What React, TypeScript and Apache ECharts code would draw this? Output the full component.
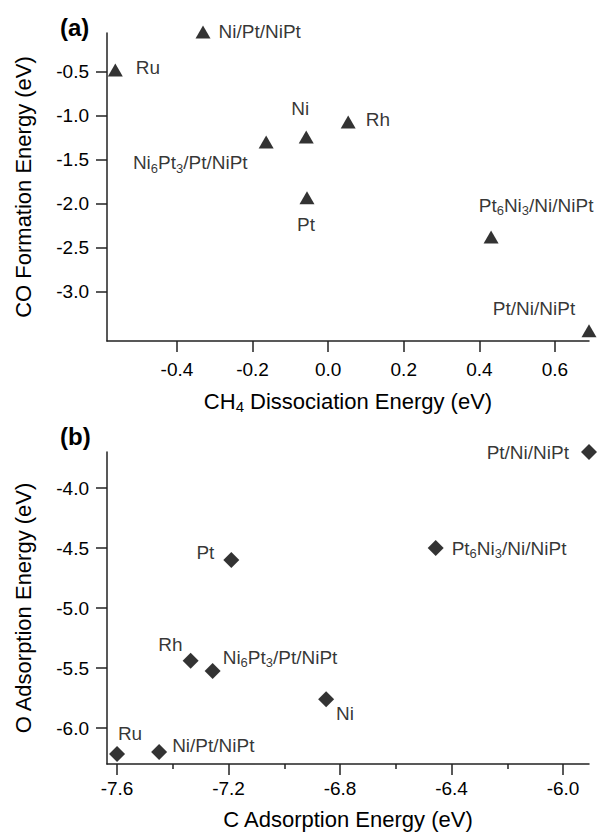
import React, { useEffect, useRef } from "react";
import * as echarts from "echarts";

// ---- data ----
const catalysts = [
  "Ru",
  "Ni/Pt/NiPt",
  "Ni6Pt3/Pt/NiPt",
  "Ni",
  "Rh",
  "Pt",
  "Pt6Ni3/Ni/NiPt",
  "Pt/Ni/NiPt",
];
// panel (a)
const ch4Dissociation = [-0.563, -0.331, -0.164, -0.058, 0.053, -0.056, 0.431, 0.69];
const coFormation = [-0.477, -0.045, -1.295, -1.239, -1.068, -1.93, -2.375, -3.44];
// panel (b)
const cAdsorption = [-7.6, -7.449, -7.257, -6.85, -7.336, -7.19, -6.457, -5.907];
const oAdsorption = [-6.217, -6.2, -5.525, -5.76, -5.44, -4.6, -4.5, -3.7];

// tick values
const topXTicks = [-0.4, -0.2, 0.0, 0.2, 0.4, 0.6];
const topYTicks = [-3.0, -2.5, -2.0, -1.5, -1.0, -0.5];
const botXTicks = [-7.6, -7.2, -6.8, -6.4, -6.0];
const botXMinorTicks = [-7.4, -7.0, -6.6, -6.2];
const botYTicks = [-6.0, -5.5, -5.0, -4.5, -4.0];

// ---- label placement (style, not data) ----
type Place = { position: string; distance: number; offset: [number, number] };
const topPlace: Place[] = [
  { position: "right", distance: 13, offset: [0, -2] },
  { position: "right", distance: 8, offset: [0, 0] },
  { position: "left", distance: 11, offset: [0, 21] },
  { position: "top", distance: 10, offset: [-6, 0] },
  { position: "right", distance: 10, offset: [0, -2] },
  { position: "bottom", distance: 8, offset: [-1, 0] },
  { position: "top", distance: 13, offset: [45, 0] },
  { position: "top", distance: 4, offset: [-55, 0] },
];
const botPlace: Place[] = [
  { position: "top", distance: 1, offset: [13, 0] },
  { position: "right", distance: 5, offset: [0, -7] },
  { position: "right", distance: 2, offset: [0, -14] },
  { position: "right", distance: 2, offset: [0, 14] },
  { position: "left", distance: 0, offset: [0, -16] },
  { position: "left", distance: 9, offset: [0, -8] },
  { position: "right", distance: 8, offset: [0, 0] },
  { position: "left", distance: 12, offset: [0, 0] },
];

const FONT = '"Liberation Sans", Arial, Helvetica, sans-serif';
const TXT = "#000";
const AX = "#222";

function richName(name: string): string {
  return name
    .split(/(\d)/)
    .filter((t) => t.length > 0)
    .map((t) => (/^\d$/.test(t) ? `{s|${t}}` : `{n|${t}}`))
    .join("");
}

const labelRich = {
  n: { fontSize: 19, fontFamily: FONT, color: TXT, lineHeight: 24 },
  s: { fontSize: 13, fontFamily: FONT, color: TXT, lineHeight: 13, verticalAlign: "bottom" },
};

function buildData(xs: number[], ys: number[], place: Place[]) {
  return catalysts.map((name, i) => ({
    name,
    value: [xs[i], ys[i]],
    label: {
      show: true,
      position: place[i].position,
      distance: place[i].distance,
      offset: place[i].offset,
      formatter: richName(name),
      rich: labelRich,
    },
  }));
}

const fmt1 = (v: number) => v.toFixed(1);

function valueAxis(extra: any) {
  return {
    type: "value",
    axisLine: { show: true, onZero: false, lineStyle: { color: AX, width: 1.5 } },
    axisTick: { show: true, length: 11, lineStyle: { color: AX, width: 1.5 } },
    axisLabel: { fontSize: 19, fontFamily: FONT, color: TXT, formatter: fmt1 },
    splitLine: { show: false },
    nameLocation: "middle",
    nameTextStyle: { fontSize: 22, fontFamily: FONT, color: TXT },
    ...extra,
  };
}

export default function App() {
  const ref = useRef<HTMLDivElement>(null);
  useEffect(() => {
    document.body.style.margin = "0";
    if (!ref.current) return;
    const chart = echarts.init(ref.current, undefined, { renderer: "svg" });
    const option: any = {
      animation: false,
      backgroundColor: "#fff",
      grid: [
        { left: 107, right: 10, top: 33, height: 308 },
        { left: 107, right: 10, top: 452, height: 312 },
      ],
      xAxis: [
        valueAxis({
          gridIndex: 0,
          min: -0.585,
          max: 0.69,
          position: "bottom",
          axisTick: { show: true, length: 11, customValues: topXTicks, lineStyle: { color: AX, width: 1.5 } },
          axisLabel: { customValues: topXTicks, fontSize: 19, fontFamily: FONT, color: TXT, formatter: fmt1, margin: 19 },
          name: "{n|CH}{s|4}{n| Dissociation Energy (eV)}",
          nameGap: 47,
          nameTextStyle: {
            fontSize: 22,
            fontFamily: FONT,
            color: TXT,
            rich: {
              n: { fontSize: 22, fontFamily: FONT, color: TXT, lineHeight: 26 },
              s: { fontSize: 15, fontFamily: FONT, color: TXT, lineHeight: 15, verticalAlign: "bottom" },
            },
          },
        }),
        valueAxis({
          gridIndex: 1,
          min: -7.636,
          max: -5.907,
          position: "bottom",
          axisTick: { show: true, length: 11, customValues: botXTicks, lineStyle: { color: AX, width: 1.5 } },
          axisLabel: { customValues: botXTicks, fontSize: 19, fontFamily: FONT, color: TXT, formatter: fmt1, margin: 15 },
          name: "C Adsorption Energy (eV)",
          nameGap: 44,
        }),
        {
          type: "value",
          gridIndex: 1,
          min: -7.636,
          max: -5.907,
          position: "bottom",
          axisLine: { show: false, onZero: false },
          axisTick: { show: true, length: 5, customValues: botXMinorTicks, lineStyle: { color: AX, width: 1.5 } },
          axisLabel: { show: false },
          splitLine: { show: false },
        },
      ],
      yAxis: [
        valueAxis({
          gridIndex: 0,
          min: -3.557,
          max: -0.057,
          position: "left",
          axisTick: { show: true, length: 11, customValues: topYTicks, lineStyle: { color: AX, width: 1.5 } },
          axisLabel: { customValues: topYTicks, fontSize: 19, fontFamily: FONT, color: TXT, formatter: fmt1, margin: 18 },
          name: "CO Formation Energy (eV)",
          nameRotate: 90,
          nameGap: 73,
        }),
        valueAxis({
          gridIndex: 1,
          min: -6.3,
          max: -3.7,
          position: "left",
          axisTick: { show: true, length: 11, customValues: botYTicks, lineStyle: { color: AX, width: 1.5 } },
          axisLabel: { customValues: botYTicks, fontSize: 19, fontFamily: FONT, color: TXT, formatter: fmt1, margin: 18 },
          name: "O Adsorption Energy (eV)",
          nameRotate: 90,
          nameGap: 73,
        }),
      ],
      graphic: [
        {
          type: "text",
          left: 60,
          top: 15,
          style: { text: "(a)", fontSize: 24, fontWeight: "bold", fontFamily: FONT, fill: TXT },
        },
        {
          type: "text",
          left: 60,
          top: 424,
          style: { text: "(b)", fontSize: 24, fontWeight: "bold", fontFamily: FONT, fill: TXT },
        },
      ],
      series: [
        {
          type: "scatter",
          xAxisIndex: 0,
          yAxisIndex: 0,
          symbol: "triangle",
          symbolSize: [15, 13],
          clip: false,
          itemStyle: { color: "#000" },
          data: buildData(ch4Dissociation, coFormation, topPlace),
        },
        {
          type: "scatter",
          xAxisIndex: 1,
          yAxisIndex: 1,
          symbol: "diamond",
          symbolSize: 16,
          clip: false,
          itemStyle: { color: "#000" },
          data: buildData(cAdsorption, oAdsorption, botPlace),
        },
      ],
    };
    chart.setOption(option);
    return () => chart.dispose();
  }, []);
  return <div ref={ref} style={{ width: 599, height: 832 }} />;
}
